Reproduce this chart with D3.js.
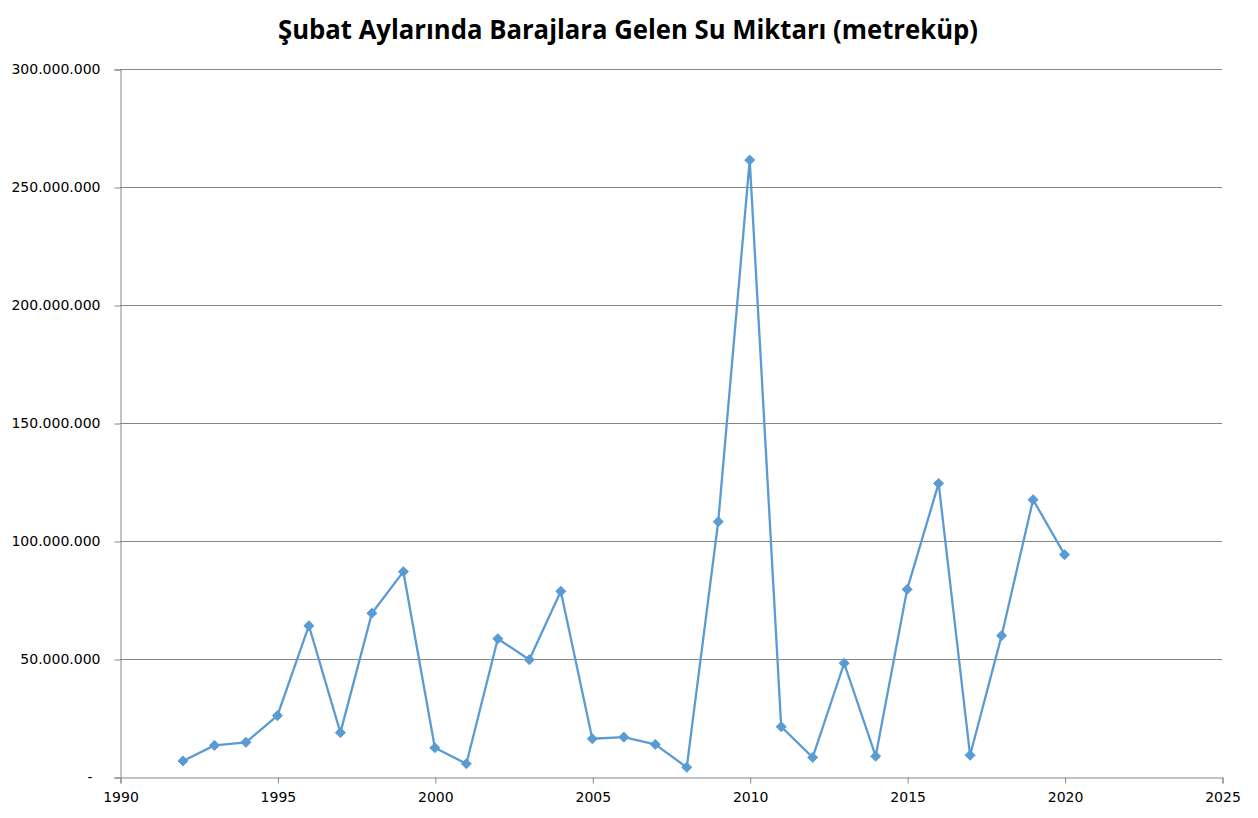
<!DOCTYPE html>
<html>
<head>
<meta charset="utf-8">
<script src="https://cdnjs.cloudflare.com/ajax/libs/d3/7.8.5/d3.min.js"></script>
<style>
  body { margin: 0; background: #fff; }
  svg { display: block; }
</style>
</head>
<body>
<svg id="chart" width="1258" height="818"></svg>
<script>
// values (metreküp)
var years = [1992, 1993, 1994, 1995, 1996, 1997, 1998, 1999, 2000, 2001,
             2002, 2003, 2004, 2005, 2006, 2007, 2008, 2009, 2010, 2011,
             2012, 2013, 2014, 2015, 2016, 2017, 2018, 2019, 2020];
var water = [6.8e6, 13.4e6, 14.7e6, 26.0e6, 64.1e6, 18.8e6, 69.4e6, 87.0e6, 12.4e6, 5.6e6,
             58.6e6, 49.7e6, 78.7e6, 16.2e6, 16.9e6, 13.8e6, 4.1e6, 108.2e6, 261.4e6, 21.3e6,
             8.3e6, 48.2e6, 8.8e6, 79.5e6, 124.4e6, 9.2e6, 59.9e6, 117.5e6, 94.2e6];
var yTicks = [0, 50e6, 100e6, 150e6, 200e6, 250e6, 300e6];
var xTicks = [1990, 1995, 2000, 2005, 2010, 2015, 2020, 2025];
var title = "Şubat Aylarında Barajlara Gelen Su Miktarı (metreküp)";

var svg = d3.select("#chart");
var plotLeft = 120, plotRight = 1222, plotTop = 69, plotBottom = 777;

var x = d3.scaleLinear().domain([1990, 2025]).range([plotLeft, plotRight]);
var y = d3.scaleLinear().domain([0, 300e6]).range([plotBottom, plotTop]);

// dotted thousands like the original
function fmt(v) {
  if (v === 0) return "-";
  return d3.format(",")(v).replace(/,/g, ".");
}

// gridlines
svg.append("g")
  .selectAll("line")
  .data(yTicks.filter(function(d) { return d > 0; }))
  .join("line")
  .attr("x1", plotLeft).attr("x2", plotRight)
  .attr("y1", function(d) { return y(d) + 0.5; })
  .attr("y2", function(d) { return y(d) + 0.5; })
  .attr("stroke", "#868686")
  .attr("stroke-width", 1);

// y axis
var yAxis = svg.append("g")
  .attr("transform", "translate(" + (plotLeft + 0.5) + ",0.5)")
  .call(d3.axisLeft(y).tickValues(yTicks).tickFormat(fmt).tickSizeOuter(0).tickSize(6).tickPadding(14));
yAxis.select(".domain").attr("stroke", "#868686");
yAxis.selectAll(".tick line").attr("stroke", "#868686");
yAxis.selectAll("text")
  .attr("font-family", "DejaVu Sans, Verdana, sans-serif")
  .attr("font-size", "14px")
  .attr("fill", "#000");
yAxis.selectAll(".tick").filter(function(d) { return d === 0; })
  .select("text").attr("dx", "-8");

// x axis
var xAxis = svg.append("g")
  .attr("transform", "translate(0.5," + (plotBottom + 0.5) + ")")
  .call(d3.axisBottom(x).tickValues(xTicks).tickFormat(d3.format("d")).tickSizeOuter(0).tickSize(6).tickPadding(9));
xAxis.select(".domain").attr("stroke", "#868686");
xAxis.selectAll(".tick line").attr("stroke", "#868686");
xAxis.selectAll("text")
  .attr("font-family", "DejaVu Sans, Verdana, sans-serif")
  .attr("font-size", "14px")
  .attr("fill", "#000");

// the series
var points = years.map(function(yr, i) { return { year: yr, value: water[i] }; });

var line = d3.line()
  .x(function(d) { return x(d.year); })
  .y(function(d) { return y(d.value); });

svg.append("path")
  .datum(points)
  .attr("d", line)
  .attr("fill", "none")
  .attr("stroke", "#5B9BD5")
  .attr("stroke-width", 2.3)
  .attr("stroke-linejoin", "round");

var diamond = d3.symbol().type(d3.symbolDiamond2).size(64);
svg.append("g")
  .selectAll("path")
  .data(points)
  .join("path")
  .attr("d", diamond)
  .attr("transform", function(d) { return "translate(" + x(d.year) + "," + y(d.value) + ")"; })
  .attr("fill", "#5B9BD5")
  .attr("stroke", "#5B9BD5")
  .attr("stroke-width", 1);

// title
svg.append("text")
  .attr("x", 628)
  .attr("y", 39)
  .attr("text-anchor", "middle")
  .attr("font-family", "Open Sans, Noto Sans, sans-serif")
  .attr("font-weight", "bold")
  .attr("font-size", "26px")
  .attr("textLength", 700)
  .attr("lengthAdjust", "spacingAndGlyphs")
  .text(title);
</script>
</body>
</html>
